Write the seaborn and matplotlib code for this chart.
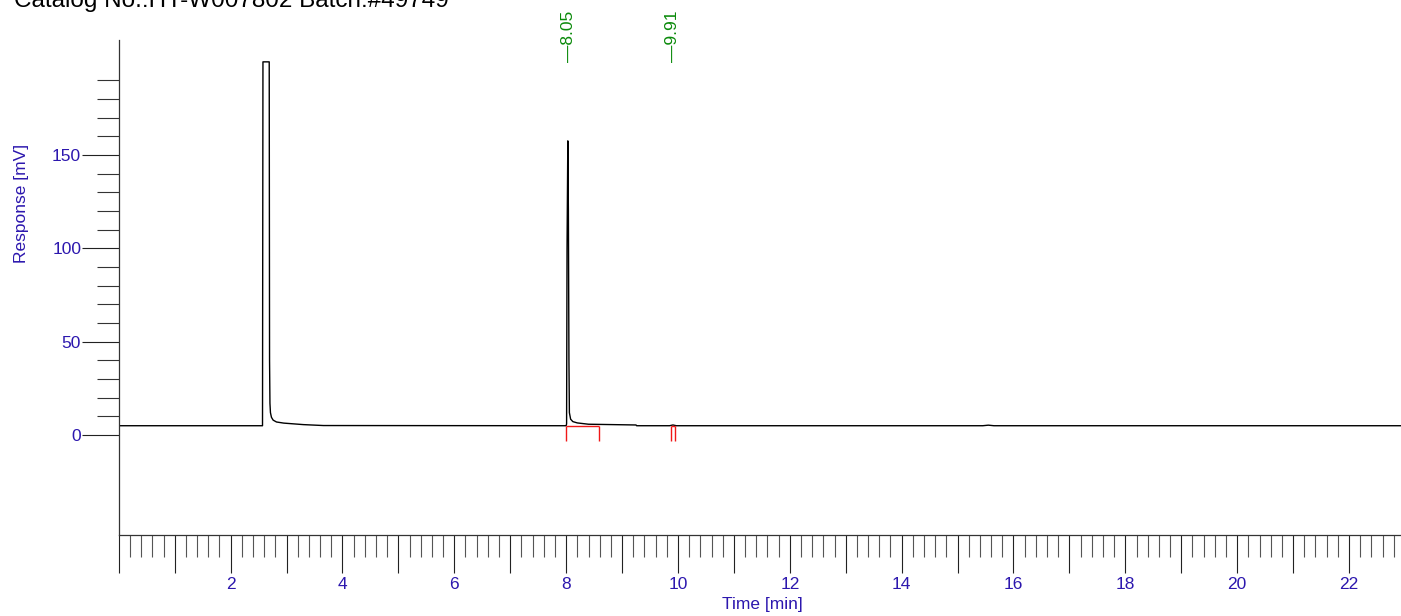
import matplotlib
matplotlib.use("Agg")
import matplotlib.pyplot as plt
import seaborn as sns
import pandas as pd
from matplotlib.ticker import FixedLocator, FuncFormatter

# ---------------- data ----------------
time_min = [0.0, 2.570, 2.578, 2.690, 2.696, 2.703, 2.712, 2.730, 2.760, 2.820,
            2.950, 3.300, 3.660, 8.000, 8.008, 8.016, 8.030, 8.040, 8.050, 8.058,
            8.080, 8.120, 8.200, 8.400, 9.250, 9.260, 9.850, 9.910, 9.970,
            15.45, 15.55, 15.65, 22.93]
response_mv = [5.0, 5.0, 199.8, 199.8, 40.0, 17.0, 12.0, 9.5, 8.0, 7.0,
               6.4, 5.6, 5.1, 5.0, 6.0, 100.0, 157.5, 120.0, 40.0, 12.0,
               8.5, 7.2, 6.5, 5.8, 5.4, 5.0, 5.0, 5.4, 5.0,
               5.0, 5.3, 5.0, 5.0]

peak_rt = [8.05, 9.91]
peak_labels = ["\u20148.05", "\u20149.91"]

marker_times = [8.00, 8.59, 9.87, 9.95]
marker_top = 5.0
marker_bottom = -3.2
baseline_start = [8.00, 9.87]
baseline_end = [8.59, 9.95]

x_major = list(range(0, 23))
x_labels = {2: "2", 4: "4", 6: "6", 8: "8", 10: "10", 12: "12", 14: "14",
            16: "16", 18: "18", 20: "20", 22: "22"}
y_major = [0, 50, 100, 150]
y_minor = [10, 20, 30, 40, 60, 70, 80, 90, 110, 120, 130, 140, 160, 170, 180, 190]

title_text = "Catalog No.:HY-W007802 Batch:#49749"
x_title = "Time [min]"
y_title = "Response [mV]"

# ---------------- style ----------------
sns.set_style("white")
plt.rcParams['font.family'] = ['Liberation Sans', 'DejaVu Sans']

BLUE = "#2C17AE"
GREEN = "#0A8A0A"
RED = "#F01818"
FS = 12.5

W, H = 1401, 616
fig = plt.figure(figsize=(W / 100, H / 100), dpi=100)
ax = fig.add_axes([118.8 / W, (H - 535) / H, (W - 118.8) / W, 495 / H])

df = pd.DataFrame({"t": time_min, "r": response_mv})
sns.lineplot(data=df, x="t", y="r", ax=ax, color="black", linewidth=1.0,
             estimator=None, sort=False)

# integration markers
ax.vlines(marker_times, marker_bottom, marker_top, color=RED, linewidth=1.0)
ax.hlines([marker_top] * len(baseline_start), baseline_start, baseline_end,
          color=RED, linewidth=1.0)

ax.set_xlim(0, 22.93)
ax.set_ylim(-53.5, 211.5)

for s in ["top", "right"]:
    ax.spines[s].set_visible(False)
for s in ["left", "bottom"]:
    ax.spines[s].set_color("#333333")
    ax.spines[s].set_linewidth(0.9)

ax.tick_params(which="both", bottom=True, left=True, top=False, right=False)

# x ticks
ax.xaxis.set_major_locator(FixedLocator(x_major))
ax.xaxis.set_major_formatter(FuncFormatter(lambda v, p: x_labels.get(int(round(v)), "")))
ax.xaxis.set_minor_locator(FixedLocator([i * 0.2 for i in range(0, 115) if i % 5 != 0]))
ax.tick_params(axis="x", which="major", direction="out", length=27.4, width=0.8,
               color="#222222", labelcolor=BLUE, labelsize=FS, pad=3)
ax.tick_params(axis="x", which="minor", direction="out", length=15.8, width=0.8,
               color="#555555")

# y ticks
ax.yaxis.set_major_locator(FixedLocator(y_major))
ax.yaxis.set_minor_locator(FixedLocator(y_minor))
ax.yaxis.set_major_formatter(FuncFormatter(lambda v, p: f"{int(v)}"))
ax.tick_params(axis="y", which="major", direction="out", length=26.6, width=0.8,
               color="#222222", labelcolor=BLUE, labelsize=FS, pad=0.5)
ax.tick_params(axis="y", which="minor", direction="out", length=15.8, width=0.8,
               color="#333333")
ax.set_xlabel("")
ax.set_ylabel("")

# peak labels
for rt, lab in zip(peak_rt, peak_labels):
    ax.text(rt, 199.8, lab, rotation=90, ha="center", va="bottom",
            color=GREEN, fontsize=FS, clip_on=False)

fig.text(22 / W, 1 - 203 / H, y_title, rotation=90, ha="center", va="center",
         color=BLUE, fontsize=FS)
fig.text(762 / W, 1 - 604 / H, x_title, ha="center", va="center",
         color=BLUE, fontsize=FS)
fig.text(14 / W, 1 - 7 / H, title_text, ha="left", va="baseline",
         color="black", fontsize=17.5)

fig.savefig("out.png", dpi=100)
